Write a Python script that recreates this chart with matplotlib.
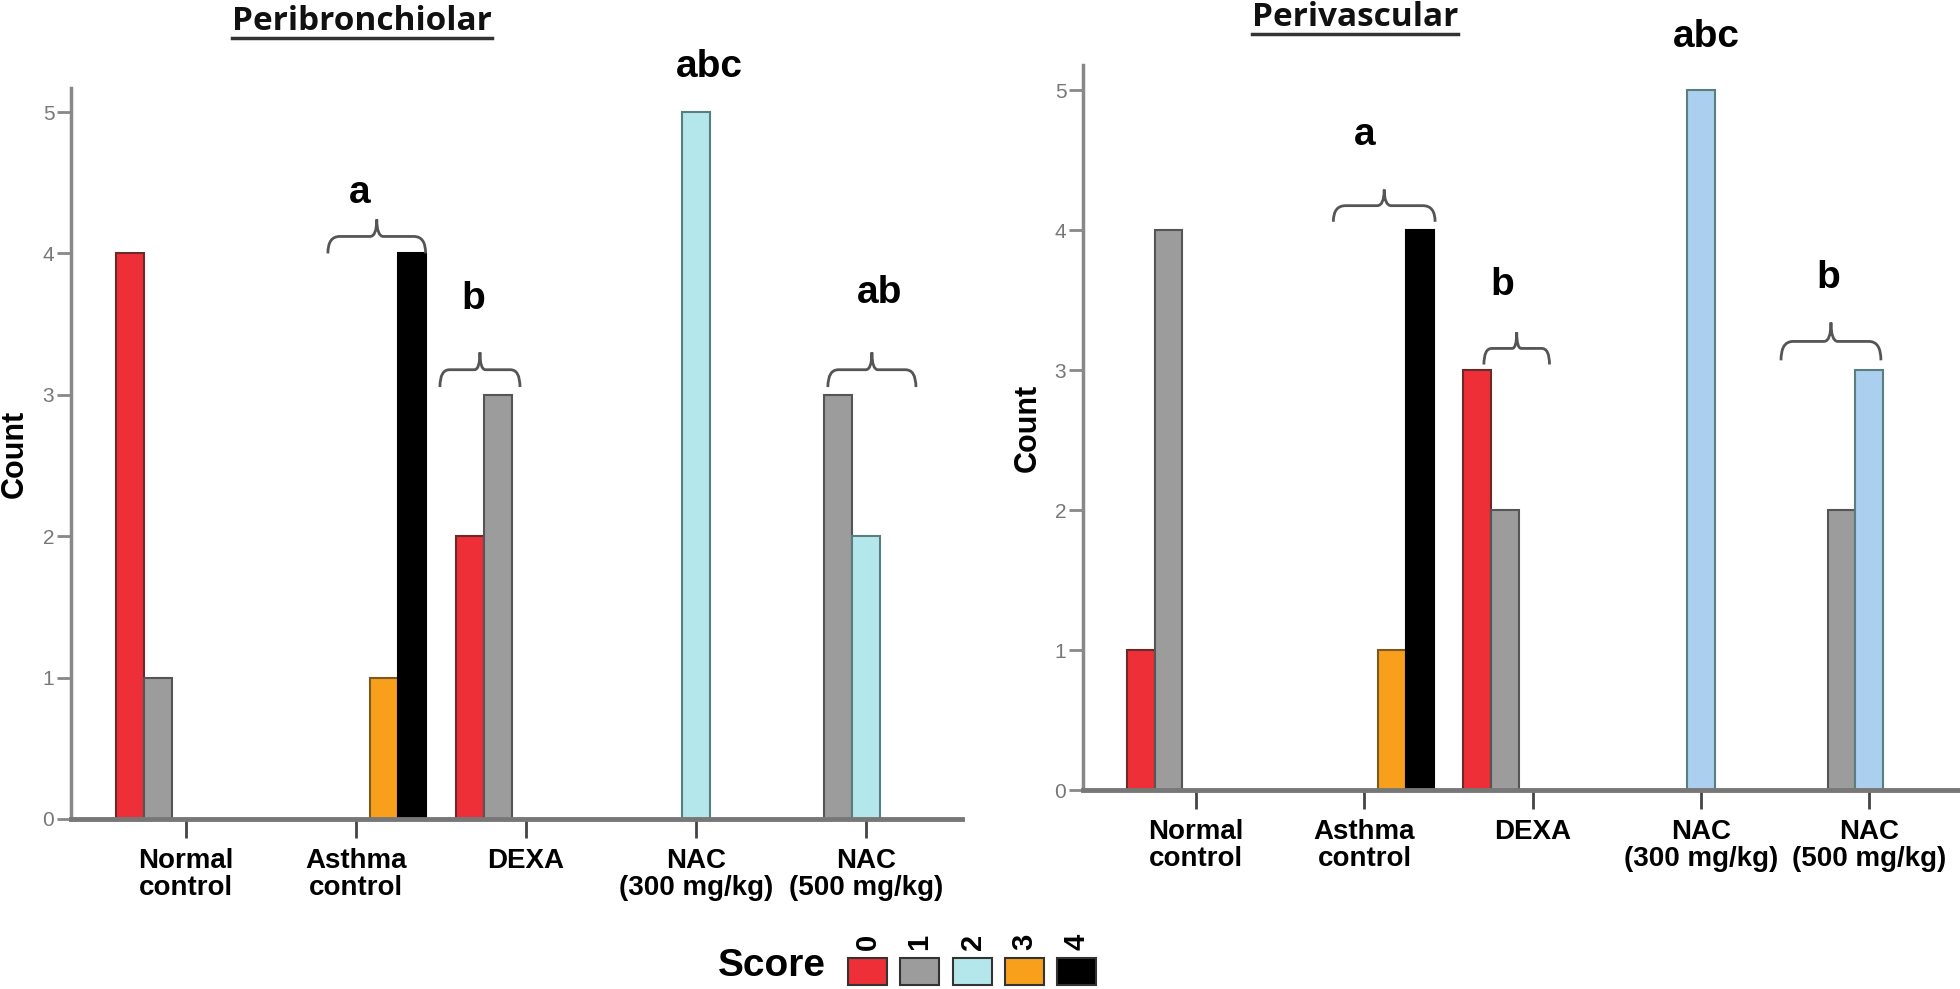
import matplotlib
matplotlib.use('Agg')
import matplotlib.pyplot as plt
import numpy as np
from matplotlib.patches import Rectangle, PathPatch
from matplotlib.path import Path
from matplotlib.lines import Line2D

plt.rcParams['font.family'] = ['Liberation Sans', 'DejaVu Sans']

groups = ['Normal\ncontrol', 'Asthma\ncontrol', 'DEXA', 'NAC\n(300 mg/kg)', 'NAC\n(500 mg/kg)']
scores = ['0', '1', '2', '3', '4']

# counts, one row per score, one column per group
peribronchiolar = [
    [4, 0, 2, 0, 0],
    [1, 0, 3, 0, 3],
    [0, 0, 0, 5, 2],
    [0, 1, 0, 0, 0],
    [0, 4, 0, 0, 0],
]
perivascular = [
    [1, 0, 3, 0, 0],
    [4, 0, 2, 0, 2],
    [0, 0, 0, 5, 3],
    [0, 1, 0, 0, 0],
    [0, 4, 0, 0, 0],
]

# significance letters (text, x, y) and braces (x0, x1, y_end, y_tip)
bronch_letters = [('a', 1.02, 4.43), ('b', 1.69, 3.68), ('abc', 3.08, 5.32), ('ab', 4.08, 3.72)]
bronch_braces = [(0.835, 1.41, 4.00, 4.24), (1.494, 1.965, 3.055, 3.30), (3.776, 4.294, 3.055, 3.30)]
vasc_letters = [('a', 1.0, 4.68), ('b', 1.82, 3.61), ('abc', 3.03, 5.38), ('b', 3.76, 3.66)]
vasc_braces = [(0.815, 1.42, 4.06, 4.29), (1.71, 2.10, 3.04, 3.27), (3.476, 4.07, 3.07, 3.34)]

colors_left = ['#ee2f38', '#9c9c9c', '#b4e7eb', '#f8a01c', '#000000']
colors_right = ['#ee2f38', '#9c9c9c', '#abcfee', '#f8a01c', '#000000']
edge = ['#6a2a2a', '#555555', '#5a7d80', '#7a5a20', '#000000']

W, H = 1960, 989
fig = plt.figure(figsize=(W / 100, H / 100), dpi=100)

BAR_W = 0.165


def brace(ax, x0, x1, y0, y1):
    xm = (x0 + x1) / 2
    yb = (y0 + y1) / 2
    w = 0.12 * (x1 - x0)
    wt = 0.07 * (x1 - x0)
    verts = [(x0, y0), (x0, yb), (x0 + w, yb),
             (xm - wt, yb),
             (xm, yb), (xm, y1),
             (xm, yb), (xm + wt, yb),
             (x1 - w, yb),
             (x1, yb), (x1, y0)]
    codes = [Path.MOVETO, Path.CURVE3, Path.CURVE3,
             Path.LINETO,
             Path.CURVE3, Path.CURVE3,
             Path.CURVE3, Path.CURVE3,
             Path.LINETO,
             Path.CURVE3, Path.CURVE3]
    ax.add_patch(PathPatch(Path(verts, codes), fill=False, edgecolor='#555555',
                           lw=2, clip_on=False, zorder=5))


def panel(rect, data, colors, xlim, ylim, letters, braces):
    ax = fig.add_axes(rect)
    x = np.arange(len(groups))
    for k in range(len(scores)):
        vals = np.array(data[k])
        m = vals > 0
        ax.bar(x[m] + (k - 2) * BAR_W, vals[m], BAR_W, color=colors[k],
               edgecolor=edge[k], linewidth=1.5, zorder=2)
    ax.set_xlim(*xlim)
    ax.set_ylim(*ylim)
    ax.set_xticks(x)
    ax.set_xticklabels(groups, fontsize=20, fontweight='bold', linespacing=1.05)
    ax.set_yticks(range(6))
    ax.tick_params(axis='x', direction='out', length=14, width=2, color='#444444', pad=7)
    ax.tick_params(axis='y', direction='out', length=10, width=2, color='#888888',
                   labelcolor='#777777', labelsize=15, pad=2)
    for s in ['top', 'right']:
        ax.spines[s].set_visible(False)
    ax.spines['left'].set_color('#888888')
    ax.spines['left'].set_linewidth(2.5)
    ax.spines['bottom'].set_color('#777777')
    ax.spines['bottom'].set_linewidth(3.5)
    ax.spines['bottom'].set_zorder(3)
    ax.set_ylabel('Count', fontsize=22, fontweight='bold')
    ax.yaxis.set_label_coords(-0.046, 0.5)
    for t, tx, ty in letters:
        ax.text(tx, ty, t, fontsize=28, fontweight='bold', ha='center', va='center',
                clip_on=False)
    for b in braces:
        brace(ax, *b)
    return ax


ax1 = panel([71 / W, 1 - 819 / H, 891 / W, 731 / H], peribronchiolar, colors_left,
            (-0.676, 4.565), (0, 5.17), bronch_letters, bronch_braces)
ax2 = panel([1083 / W, 1 - 790 / H, 877 / W, 725 / H], perivascular, colors_right,
            (-0.673, 4.54), (0, 5.18), vasc_letters, vasc_braces)

# underlined titles
titles = [('Peribronchiolar', 362, 22, 38), ('Perivascular', 1355, 18, 34)]
title_objs = []
for txt, px, py, uy in titles:
    t = fig.text(px / W, 1 - py / H, txt, fontsize=24, fontweight='bold',
                 family=['Open Sans', 'DejaVu Sans'], ha='center', va='center', color='#111111')
    title_objs.append((t, uy))

fig.canvas.draw()
for t, uy in title_objs:
    bb = t.get_window_extent()
    fig.add_artist(Line2D([bb.x0 / W, bb.x1 / W], [1 - uy / H] * 2, color='#333333',
                          lw=2.5, transform=fig.transFigure))

# legend
fig.text(772 / W, 1 - 966 / H, 'Score', fontsize=28, fontweight='bold', ha='center', va='center')
sq_left = [848, 900, 953, 1005, 1057]
for k, sx in enumerate(sq_left):
    fig.add_artist(Rectangle((sx / W, 1 - 985 / H), 39 / W, 27 / H, transform=fig.transFigure,
                             facecolor=colors_left[k], edgecolor='#333333', lw=1.5))
    fig.text((sx + 19.5) / W, 1 - 942 / H, scores[k], fontsize=21, fontweight='bold',
             rotation=90, ha='center', va='center')

fig.savefig('out.png', dpi=100)
